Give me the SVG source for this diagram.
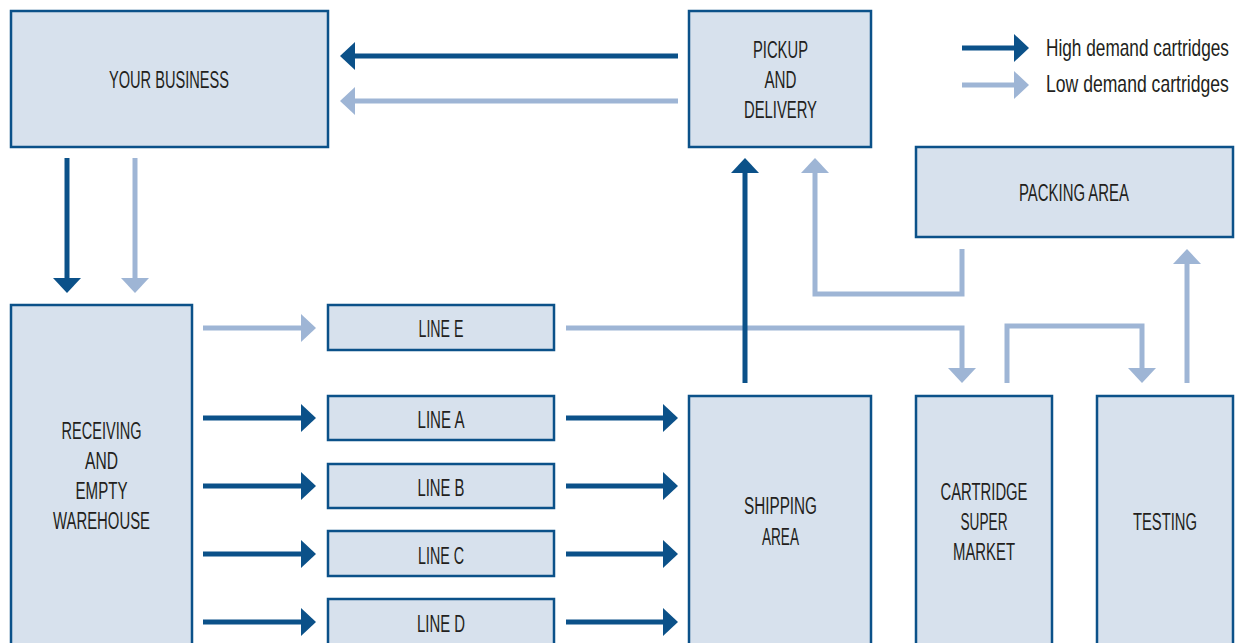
<svg xmlns="http://www.w3.org/2000/svg" width="1241" height="643" viewBox="0 0 1241 643">
<defs>
<style>
.box{fill:#d7e1ed;stroke:#0b5189;stroke-width:2.5}
.t{font-family:"Liberation Sans",Arial,sans-serif;font-size:23px;fill:#231f20;text-anchor:middle}
.lg{font-family:"Liberation Sans",Arial,sans-serif;font-size:23px;fill:#231f20}
.hi{fill:none;stroke:#0b5189;stroke-width:5;marker-end:url(#ah)}
.lo{fill:none;stroke:#9eb5d5;stroke-width:5;stroke-linejoin:miter;marker-end:url(#al)}
</style>
<marker id="ah" markerUnits="userSpaceOnUse" viewBox="0 0 15 28" markerWidth="15" markerHeight="28" refX="0" refY="14" orient="auto"><path d="M0,0 L15,14 L0,28 z" fill="#0b5189"/></marker>
<marker id="al" markerUnits="userSpaceOnUse" viewBox="0 0 15 28" markerWidth="15" markerHeight="28" refX="0" refY="14" orient="auto"><path d="M0,0 L15,14 L0,28 z" fill="#9eb5d5"/></marker>
</defs>
<rect width="1241" height="643" fill="#ffffff"/>

<g id="connectors">
<path class="lo" d="M678,101 H355"/>
<path class="hi" d="M678,56 H355"/>
<path class="hi" d="M67,158 V278"/>
<path class="lo" d="M135,158 V278"/>
<path class="lo" d="M962,249 V294 H815 V173"/>
<path class="lo" d="M203,328 H301"/>
<path class="lo" d="M566,328 H962 V368"/>
<path class="lo" d="M1007,383 V326 H1142 V368"/>
<path class="lo" d="M1187,383 V264"/>
<path class="hi" d="M745,383 V173"/>
<path class="hi" d="M203,418 H301"/>
<path class="hi" d="M203,486 H301"/>
<path class="hi" d="M203,554 H301"/>
<path class="hi" d="M203,622 H301"/>
<path class="hi" d="M566,418 H663"/>
<path class="hi" d="M566,486 H663"/>
<path class="hi" d="M566,554 H663"/>
<path class="hi" d="M566,622 H663"/>
</g>

<g id="legend">
<path class="hi" d="M962,48 H1014"/>
<path class="lo" d="M962,85 H1014"/>
<text class="lg" transform="translate(1046,56) scale(0.75,1)" x="0" y="0">High demand cartridges</text>
<text class="lg" transform="translate(1046,92) scale(0.765,1)" x="0" y="0">Low demand cartridges</text>
</g>

<g id="your-business">
<rect class="box" x="11" y="11" width="317" height="136"/>
<text class="t" x="169" y="88" textLength="120" lengthAdjust="spacingAndGlyphs">YOUR BUSINESS</text>
</g>
<g id="pickup">
<rect class="box" x="689" y="11" width="182" height="136"/>
<text class="t" x="780.5" y="58" textLength="55" lengthAdjust="spacingAndGlyphs">PICKUP</text>
<text class="t" x="780.5" y="88" textLength="32" lengthAdjust="spacingAndGlyphs">AND</text>
<text class="t" x="780.5" y="118" textLength="73" lengthAdjust="spacingAndGlyphs">DELIVERY</text>
</g>
<g id="packing">
<rect class="box" x="916" y="147" width="317" height="90"/>
<text class="t" x="1074" y="201" textLength="110" lengthAdjust="spacingAndGlyphs">PACKING AREA</text>
</g>
<g id="receiving">
<rect class="box" x="11" y="305" width="181" height="350"/>
<text class="t" x="101.5" y="439" textLength="80" lengthAdjust="spacingAndGlyphs">RECEIVING</text>
<text class="t" x="101.5" y="469" textLength="33" lengthAdjust="spacingAndGlyphs">AND</text>
<text class="t" x="101.5" y="499" textLength="52" lengthAdjust="spacingAndGlyphs">EMPTY</text>
<text class="t" x="101.5" y="529" textLength="97" lengthAdjust="spacingAndGlyphs">WAREHOUSE</text>
</g>
<g id="line-e">
<rect class="box" x="328" y="305" width="226" height="45"/>
<text class="t" x="441" y="337" textLength="45" lengthAdjust="spacingAndGlyphs">LINE E</text>
</g>
<g id="line-a">
<rect class="box" x="328" y="396" width="226" height="44"/>
<text class="t" x="441" y="428" textLength="47" lengthAdjust="spacingAndGlyphs">LINE A</text>
</g>
<g id="line-b">
<rect class="box" x="328" y="464" width="226" height="44"/>
<text class="t" x="441" y="496" textLength="47" lengthAdjust="spacingAndGlyphs">LINE B</text>
</g>
<g id="line-c">
<rect class="box" x="328" y="531" width="226" height="45"/>
<text class="t" x="441" y="564" textLength="46" lengthAdjust="spacingAndGlyphs">LINE C</text>
</g>
<g id="line-d">
<rect class="box" x="328" y="599" width="226" height="56"/>
<text class="t" x="441" y="632" textLength="48" lengthAdjust="spacingAndGlyphs">LINE D</text>
</g>
<g id="shipping">
<rect class="box" x="689" y="396" width="182" height="260"/>
<text class="t" x="780.5" y="514" textLength="73" lengthAdjust="spacingAndGlyphs">SHIPPING</text>
<text class="t" x="780.5" y="545" textLength="37" lengthAdjust="spacingAndGlyphs">AREA</text>
</g>
<g id="cartridge">
<rect class="box" x="916" y="396" width="136" height="260"/>
<text class="t" x="984" y="500" textLength="87" lengthAdjust="spacingAndGlyphs">CARTRIDGE</text>
<text class="t" x="984" y="530" textLength="47" lengthAdjust="spacingAndGlyphs">SUPER</text>
<text class="t" x="984" y="560" textLength="62" lengthAdjust="spacingAndGlyphs">MARKET</text>
</g>
<g id="testing">
<rect class="box" x="1097" y="396" width="136" height="260"/>
<text class="t" x="1165" y="530" textLength="64" lengthAdjust="spacingAndGlyphs">TESTING</text>
</g>
</svg>
